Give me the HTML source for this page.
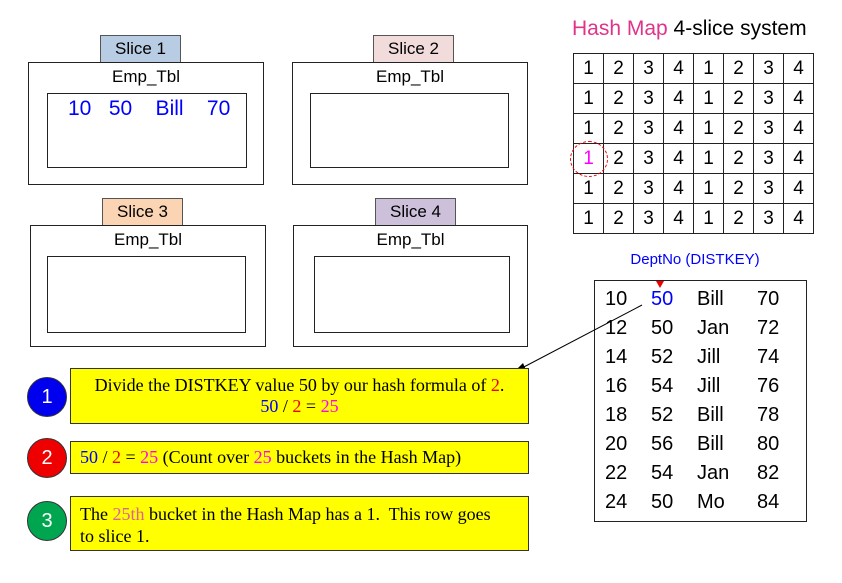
<!DOCTYPE html>
<html><head><style>
body{margin:0;width:842px;height:583px;background:#fff;position:relative;overflow:hidden;font-family:"Liberation Sans",sans-serif}
div{position:absolute;box-sizing:border-box}
.tab{border:1px solid #555;height:28px;font-size:17px;text-align:center;line-height:26px}
.box{border:1px solid #222}
.et{font-size:17px;text-align:center}
.y{background:#ffff00;border:1px solid #333;font-family:"Liberation Serif",serif;font-size:18px;line-height:21px}
.c{width:40px;height:40px;border-radius:50%;border:1px solid #333;color:#fff;font-size:20px;text-align:center;line-height:38px}
.b{color:#00f}.r{color:#e00}.m{color:#f0f}
table{border-collapse:collapse}
td{border:1px solid #222;width:29px;height:29px;text-align:center;font-size:19px;padding:0}
</style></head><body>
<div class="tab" style="left:100px;top:35px;width:81px;background:#b8cce4">Slice 1</div>
<div class="box" style="left:28px;top:62px;width:236px;height:123px"></div>
<div class="et" style="left:28px;top:67px;width:236px">Emp_Tbl</div>
<div class="box" style="left:47px;top:93px;width:200px;height:75px"></div>
<div style="left:68px;top:97px;font-size:21px;color:#00f">10&nbsp;&nbsp; 50&nbsp;&nbsp;&nbsp; Bill&nbsp;&nbsp;&nbsp; 70</div>

<div class="tab" style="left:373px;top:35px;width:81px;background:#f2dcdb">Slice 2</div>
<div class="box" style="left:292px;top:62px;width:236px;height:123px"></div>
<div class="et" style="left:292px;top:67px;width:236px">Emp_Tbl</div>
<div class="box" style="left:310px;top:93px;width:199px;height:75px"></div>

<div class="tab" style="left:102px;top:198px;width:81px;background:#fbd4b4">Slice 3</div>
<div class="box" style="left:30px;top:225px;width:236px;height:122px"></div>
<div class="et" style="left:30px;top:230px;width:236px">Emp_Tbl</div>
<div class="box" style="left:47px;top:256px;width:199px;height:77px"></div>

<div class="tab" style="left:375px;top:198px;width:81px;background:#ccc0da">Slice 4</div>
<div class="box" style="left:293px;top:225px;width:235px;height:122px"></div>
<div class="et" style="left:293px;top:230px;width:235px">Emp_Tbl</div>
<div class="box" style="left:314px;top:256px;width:196px;height:77px"></div>

<div style="left:572px;top:17px;font-size:21px;white-space:nowrap"><span style="color:#e0338a">Hash Map</span> 4-slice system</div>
<div style="left:573px;top:53px">
<table>
<tr><td>1</td><td>2</td><td>3</td><td>4</td><td>1</td><td>2</td><td>3</td><td>4</td></tr>
<tr><td>1</td><td>2</td><td>3</td><td>4</td><td>1</td><td>2</td><td>3</td><td>4</td></tr>
<tr><td>1</td><td>2</td><td>3</td><td>4</td><td>1</td><td>2</td><td>3</td><td>4</td></tr>
<tr><td style="color:#f0f">1</td><td>2</td><td>3</td><td>4</td><td>1</td><td>2</td><td>3</td><td>4</td></tr>
<tr><td>1</td><td>2</td><td>3</td><td>4</td><td>1</td><td>2</td><td>3</td><td>4</td></tr>
<tr><td>1</td><td>2</td><td>3</td><td>4</td><td>1</td><td>2</td><td>3</td><td>4</td></tr>
</table></div>
<div style="left:570px;top:141px;width:38px;height:36px;border:1px dashed #e00;border-radius:50%"></div>

<div style="left:595px;top:251px;width:200px;text-align:center;color:#00f;font-size:15px">DeptNo (DISTKEY)</div>
<div class="box" style="left:594px;top:280px;width:213px;height:242px"></div>
<div style="left:605px;top:285px;font-size:20px;line-height:29px;width:200px">
<div style="position:relative;height:29px"><span style="position:absolute;left:0">10</span><span style="position:absolute;left:46px;color:#00f">50</span><span style="position:absolute;left:92px">Bill</span><span style="position:absolute;left:152px">70</span></div>
<div style="position:relative;height:29px"><span style="position:absolute;left:0">12</span><span style="position:absolute;left:46px">50</span><span style="position:absolute;left:92px">Jan</span><span style="position:absolute;left:152px">72</span></div>
<div style="position:relative;height:29px"><span style="position:absolute;left:0">14</span><span style="position:absolute;left:46px">52</span><span style="position:absolute;left:92px">Jill</span><span style="position:absolute;left:152px">74</span></div>
<div style="position:relative;height:29px"><span style="position:absolute;left:0">16</span><span style="position:absolute;left:46px">54</span><span style="position:absolute;left:92px">Jill</span><span style="position:absolute;left:152px">76</span></div>
<div style="position:relative;height:29px"><span style="position:absolute;left:0">18</span><span style="position:absolute;left:46px">52</span><span style="position:absolute;left:92px">Bill</span><span style="position:absolute;left:152px">78</span></div>
<div style="position:relative;height:29px"><span style="position:absolute;left:0">20</span><span style="position:absolute;left:46px">56</span><span style="position:absolute;left:92px">Bill</span><span style="position:absolute;left:152px">80</span></div>
<div style="position:relative;height:29px"><span style="position:absolute;left:0">22</span><span style="position:absolute;left:46px">54</span><span style="position:absolute;left:92px">Jan</span><span style="position:absolute;left:152px">82</span></div>
<div style="position:relative;height:29px"><span style="position:absolute;left:0">24</span><span style="position:absolute;left:46px">50</span><span style="position:absolute;left:92px">Mo</span><span style="position:absolute;left:152px">84</span></div>
</div>
<svg style="position:absolute;left:0;top:0" width="842" height="583">
<polygon points="656,281 664,281 660,288" fill="#e00"/>
<line x1="642" y1="305" x2="520" y2="369" stroke="#000" stroke-width="1"/>
<polygon points="513,373 523,363 526,370" fill="#000"/>
</svg>

<div class="c" style="left:27px;top:377px;background:#0000ee">1</div>
<div class="c" style="left:27px;top:438px;background:#ee0000">2</div>
<div class="c" style="left:27px;top:501px;background:#00a550">3</div>

<div class="y" style="left:70px;top:368px;width:459px;height:56px;text-align:center;padding-top:6px">Divide the DISTKEY value 50 by our hash formula of <span class="r">2</span>.<br><span class="b">50</span> / <span class="r">2</span> = <span class="m">25</span></div>
<div class="y" style="left:70px;top:441px;width:459px;height:33px;padding:5px 0 0 9px"><span class="b">50</span> / <span class="r">2</span> = <span class="m">25</span> (Count over <span class="m">25</span> buckets in the Hash Map)</div>
<div class="y" style="left:70px;top:496px;width:459px;height:55px;padding:6px 0 0 9px;line-height:22px">The <span style="color:#e0609a">25th</span> bucket in the Hash Map has a 1.&nbsp; This row goes<br>to slice 1.</div>
</body></html>
